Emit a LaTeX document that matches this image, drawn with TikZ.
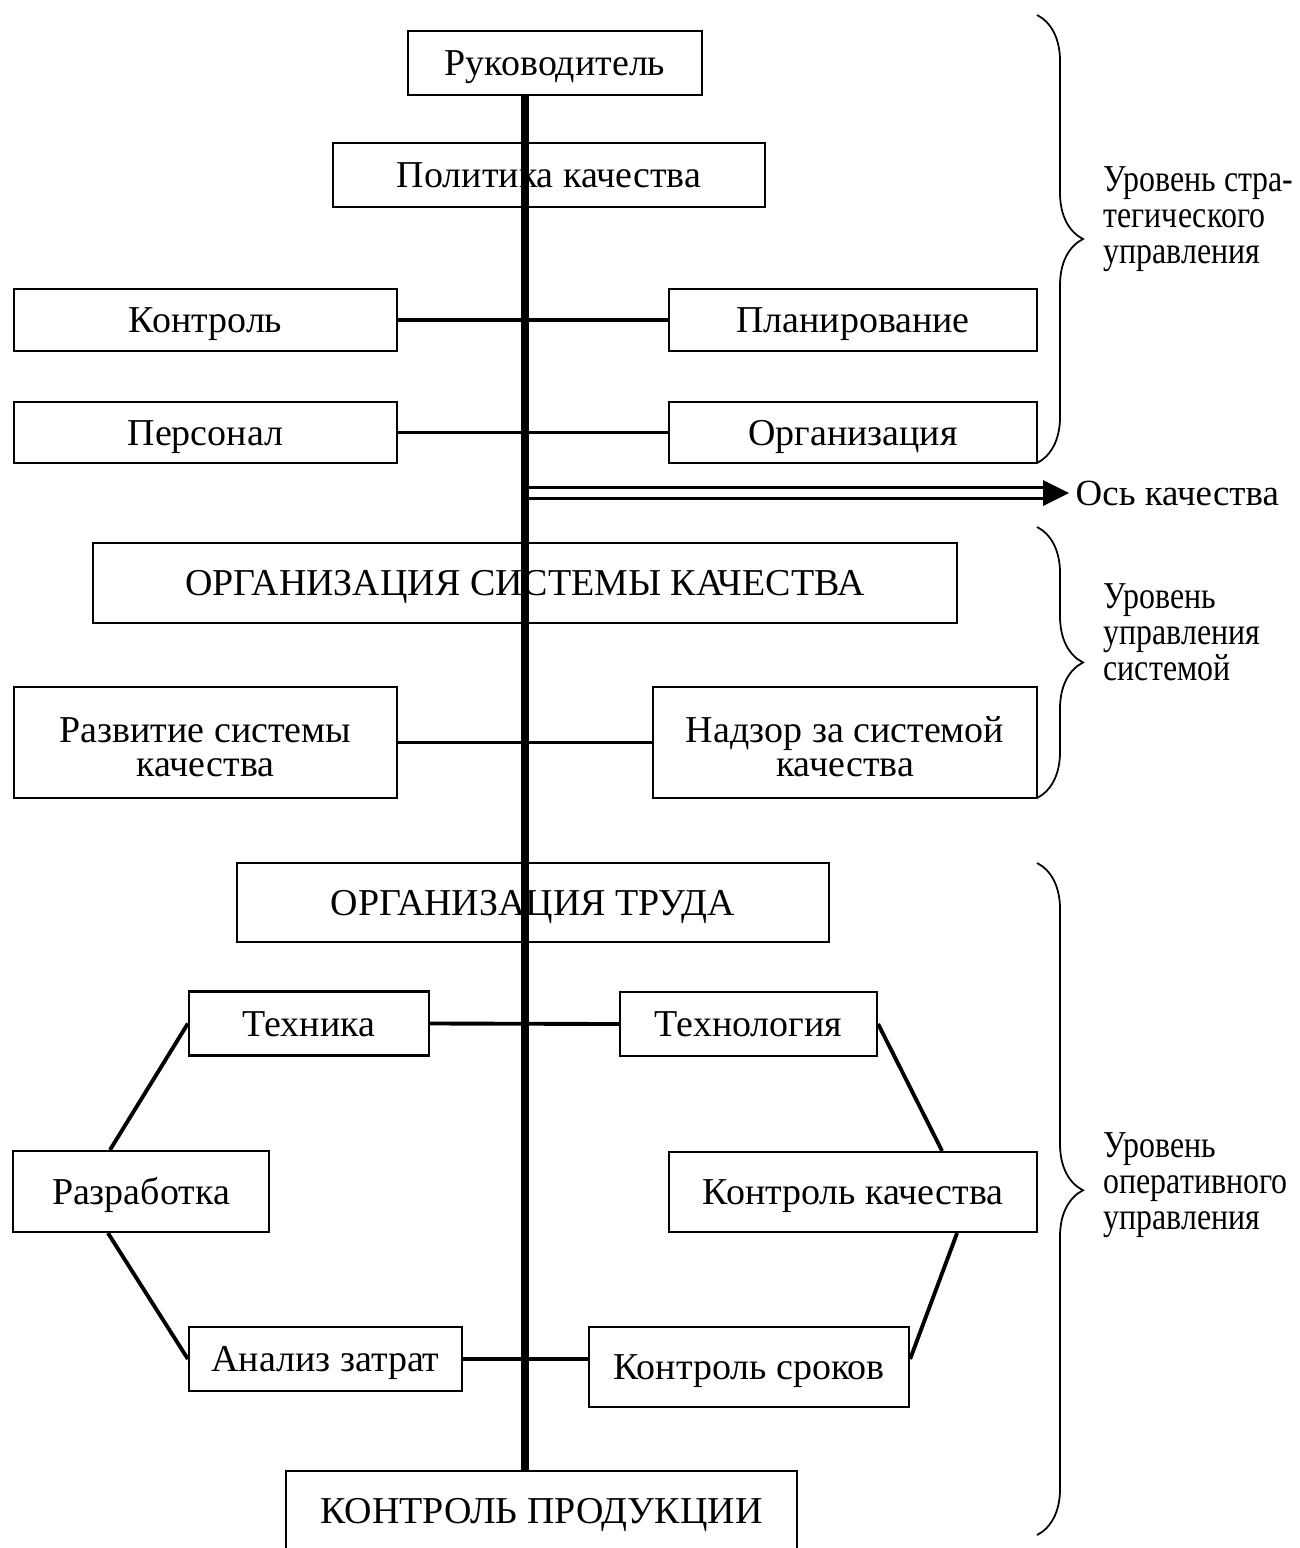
\documentclass[tikz,border=0pt]{standalone}
\usepackage{fontspec}
\setmainfont{Liberation Serif}
\newfontfamily\narrowserif[FakeStretch=0.84]{Liberation Serif}
\usetikzlibrary{decorations.pathreplacing}

\begin{document}
\begin{tikzpicture}[x=0.01cm,y=-0.01cm]
	\tikzset{box/.style={draw, line width=0.6pt, inner sep=0pt, align=center, text height=0.25cm, text depth=0cm, font=\fontsize{10.8}{9.8}\selectfont}}
	\tikzset{box2/.style={box, text height=0.68cm, text depth=0cm}}
	\tikzset{link/.style={line width=1.1pt}}
	\tikzset{spine/.style={line width=2pt}}
	\tikzset{level/.style={decorate, decoration={brace, amplitude=0.46cm}, line width=0.5pt}}
	\tikzset{lvltext/.style={anchor=west, align=left, inner sep=0pt, font=\narrowserif\fontsize{10.8}{10.2}\selectfont}}
	\useasboundingbox (0,0) rectangle (1300,1548);
	% strategic level
	\node[box, minimum width=2.94cm, minimum height=0.64cm] (ruk) at (555,63) {Руководитель};
	\node[box, minimum width=4.32cm, minimum height=0.64cm] (pol) at (549,175) {Политика качества};
	\node[box, minimum width=3.83cm, minimum height=0.62cm] (kon) at (205.5,320) {Контроль};
	\node[box, minimum width=3.68cm, minimum height=0.62cm] (plan) at (853,320) {Планирование};
	\node[box, minimum width=3.83cm, minimum height=0.61cm] (pers) at (205.5,432.5) {Персонал};
	\node[box, minimum width=3.68cm, minimum height=0.61cm] (org) at (853,432.5) {Организация};
	% system level
	\node[box, minimum width=8.64cm, minimum height=0.80cm] (osk) at (525,583) {ОРГАНИЗАЦИЯ СИСТЕМЫ КАЧЕСТВА};
	\node[box2, minimum width=3.83cm, minimum height=1.11cm] (razv) at (205.5,742.5) {Развитие системы\\качества};
	\node[box2, minimum width=3.84cm, minimum height=1.11cm] (nadz) at (845,742.5) {Надзор за системой\\качества};
	% operational level
	\node[box, minimum width=5.92cm, minimum height=0.79cm] (otr) at (533,902.5) {ОРГАНИЗАЦИЯ ТРУДА};
	\node[box, minimum width=2.40cm, minimum height=0.64cm] (tekh) at (309,1023.5) {Техника};
	\node[box, minimum width=2.57cm, minimum height=0.64cm] (tekhn) at (748.5,1024) {Технология};
	\node[box, minimum width=2.56cm, minimum height=0.81cm] (razr) at (141,1191.5) {Разработка};
	\node[box, minimum width=3.68cm, minimum height=0.80cm] (kk) at (853,1192) {Контроль качества};
	\node[box, minimum width=2.73cm, minimum height=0.64cm] (az) at (325.5,1359) {Анализ затрат};
	\node[box, minimum width=3.20cm, minimum height=0.80cm] (ks) at (749,1367) {Контроль сроков};
	\node[box, minimum width=5.11cm, minimum height=0.80cm] (kp) at (541.5,1511) {КОНТРОЛЬ ПРОДУКЦИИ};
	% quality axis
	\coordinate (ax) at (525,0);
	\coordinate (osTip) at (1069,493);
	\coordinate (osBase) at (1045,493);
	\draw[double, double distance=2pt, line width=0.9pt] (osBase -| ax) -- (osBase);
	\fill (osTip) -- (1043,480) -- (1043,506) -- cycle;
	\node[anchor=west, inner sep=0pt, font=\fontsize{10.5}{12}\selectfont] (os) at (1075,493) {Ось качества};
	\draw[spine] (ruk.south -| ax) -- (kp.north -| ax);
	% links
	\draw[link] (kon.east) -- (plan.west);
	\draw[link] (pers.east) -- (org.west);
	\draw[link] (razv.east) -- (nadz.west);
	\draw[link] (tekh.east) -- (tekhn.west);
	\draw[link] (az.east) -- (ks.west |- az.east);
	\draw[link] (tekh.west) -- ([xshift=-0.31cm]razr.north);
	\draw[link] ([xshift=-0.33cm]razr.south) -- (az.west);
	\draw[link] (tekhn.east) -- ([xshift=0.89cm]kk.north);
	\draw[link] ([xshift=1.04cm]kk.south) -- (ks.east |- az.east);
	% levels
	\draw[level] (1037,15) -- (1037,463);
	\draw[level] (1037,527) -- (1037,798);
	\draw[level, decoration={aspect=0.487}] (1037,863) -- (1037,1535);
	\node[lvltext] (lv1) at (1103,219) {Уровень стра-\\тегического\\управления};
	\node[lvltext] (lv2) at (1103,632) {Уровень\\управления\\системой};
	\node[lvltext] (lv3) at (1103,1185) {Уровень\\оперативного\\управления};
\end{tikzpicture}
\end{document}
